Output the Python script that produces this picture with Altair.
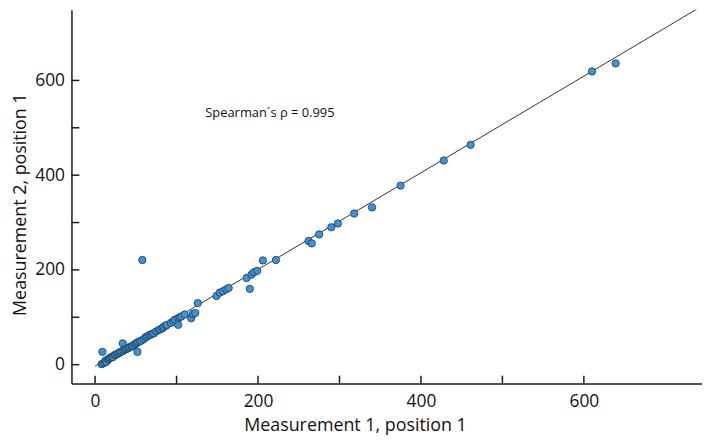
import altair as alt
import pandas as pd

# Measurement 1 (x) and Measurement 2 (y), position 1
m1 = [8, 9, 10, 12, 13, 14, 16, 17, 18, 20, 21, 22, 24, 25, 27, 28, 30, 31, 33, 34,
      35, 37, 38, 40, 41, 43, 45, 46, 48, 50, 51, 52, 53, 55, 57, 58, 60, 62, 64, 66,
      68, 70, 72, 75, 78, 80, 83, 84, 87, 88, 93, 96, 98, 102, 102, 104, 106, 110, 118, 120,
      123, 126, 149, 153, 157, 161, 164, 186, 190, 192, 195, 199, 206, 222, 262, 266, 275, 290, 298, 318,
      340, 375, 428, 461, 610, 639]
m2 = [1, 27, 3, 5, 9, 6, 11, 12, 14, 15, 17, 16, 20, 21, 22, 24, 25, 27, 28, 45,
      30, 32, 33, 34, 36, 37, 39, 40, 42, 44, 46, 27, 48, 49, 51, 221, 54, 58, 59, 62,
      63, 65, 66, 70, 73, 75, 77, 80, 82, 84, 88, 91, 95, 84, 98, 100, 102, 106, 98, 107,
      109, 130, 145, 152, 155, 159, 162, 183, 160, 190, 195, 198, 220, 221, 261, 256, 275, 290, 298, 319,
      332, 378, 431, 464, 619, 636]

line_x = [0, 745]
line_y = [-3, 757]

tick_values = [0, 100, 200, 300, 400, 500, 600]
label_values = [0, 200, 400, 600]

annotation = "Spearman\u00b4s \u03c1 = 0.995"

FONT = "Open Sans"
W, H = 636, 377
XDOM = [-29, 745]
YDOM = [-40, 749]

pts = pd.DataFrame({"x": m1, "y": m2})
line_df = pd.DataFrame({"x": line_x, "y": line_y})
xt = pd.DataFrame({"x": tick_values})
yt = pd.DataFrame({"y": tick_values})

x_axis = alt.Axis(values=label_values, title="Measurement 1, position 1", grid=False,
                  ticks=False, tickSize=0, labelPadding=9, labelFont=FONT, labelFontSize=17.5,
                  labelColor="#111", domainColor="#1a1a1a", domainWidth=1.5,
                  titleFont=FONT, titleFontSize=18, titleFontWeight="normal", titleColor="#111",
                  titleX=286, titleY=47, titleAlign="center", titleBaseline="alphabetic")
y_axis = alt.Axis(values=label_values, title="Measurement 2, position 1", grid=False,
                  ticks=False, tickSize=0, labelPadding=7, labelFont=FONT, labelFontSize=17.5,
                  labelColor="#111", domainColor="#1a1a1a", domainWidth=1.5,
                  titleFont=FONT, titleFontSize=18, titleFontWeight="normal", titleColor="#111",
                  titleX=-46, titleY=196, titleAlign="center", titleBaseline="alphabetic",
                  titleAngle=270)

X = lambda: alt.X("x:Q", scale=alt.Scale(domain=XDOM, nice=False, zero=False), axis=x_axis)
Y = lambda: alt.Y("y:Q", scale=alt.Scale(domain=YDOM, nice=False, zero=False), axis=y_axis)

line = alt.Chart(line_df).mark_line(color="#333333", strokeWidth=1, clip=True).encode(x=X(), y=Y())

xticks = alt.Chart(xt).mark_rule(color="#1a1a1a", strokeWidth=1.5).encode(
    x=X(), y=alt.value(H), y2=alt.value(H - 8))
yticks = alt.Chart(yt).mark_rule(color="#1a1a1a", strokeWidth=1.5).encode(
    y=Y(), x=alt.value(0), x2=alt.value(8))

points = alt.Chart(pts).mark_point(shape="circle", filled=True, size=55, fill="#3f92d6",
                                   stroke="#1b3a57", strokeWidth=0.8, opacity=1).encode(x=X(), y=Y())

text = alt.Chart(pd.DataFrame({"t": [annotation]})).mark_text(
    font=FONT, fontSize=13, color="#111", align="left", baseline="alphabetic").encode(
    text="t:N", x=alt.value(135), y=alt.value(108))

chart = alt.layer(line, xticks, yticks, points, text).properties(
    width=W, height=H,
    autosize=alt.AutoSizeParams(type="none"),
    padding={"left": 64, "top": 0, "right": 0, "bottom": 52},
).configure_view(stroke=None)

chart.save("out.html", embed_options={"renderer": "svg", "actions": False})
